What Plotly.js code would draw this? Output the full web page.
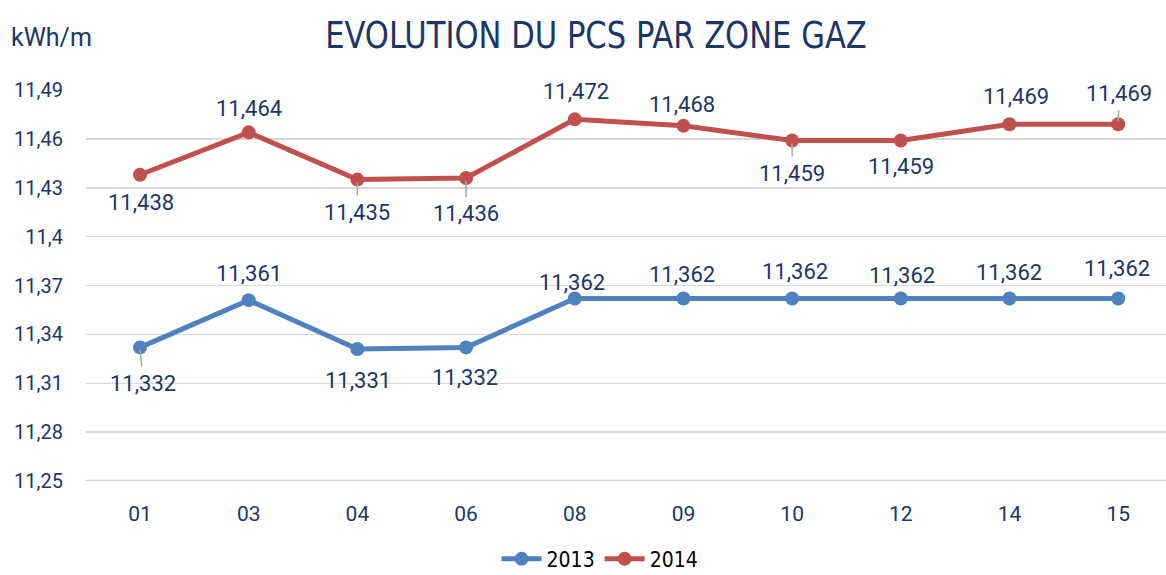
<!DOCTYPE html>
<html>
<head>
<meta charset="utf-8">
<script src="https://cdn.plot.ly/plotly-3.0.1.min.js"></script>
<style>
html,body{margin:0;padding:0;background:#fff;}
#chart{width:1166px;height:575px;}
#chart .gtitle{transform:scaleX(0.92);transform-box:fill-box;transform-origin:center;}
</style>
</head>
<body>
<div id="chart"></div>
<script>
// ---- data ----
const zones = ["01", "03", "04", "06", "08", "09", "10", "12", "14", "15"];
const values2013 = [11.332, 11.361, 11.331, 11.332, 11.362, 11.362, 11.362, 11.362, 11.362, 11.362];
const values2014 = [11.438, 11.464, 11.435, 11.436, 11.472, 11.468, 11.459, 11.459, 11.469, 11.469];
const yTickVals = [11.25, 11.28, 11.31, 11.34, 11.37, 11.40, 11.43, 11.46, 11.49];
const yTickText = ["11,25", "11,28", "11,31", "11,34", "11,37", "11,4", "11,43", "11,46", "11,49"];
const seriesNames = ["2013", "2014"];

// ---- label placement (pixel offsets, leader flag) ----
const off2013 = [[3,36,1],[0,-27,0],[1,31,0],[-1,30,0],[-3,-16,0],[-1,-24,0],[3,-27,0],[1,-23,0],[0,-26,0],[-1,-30,0]];
const off2014 = [[1,28,0],[0,-24,0],[0,33,1],[0,36,1],[1,-28,0],[-1,-21,0],[0,33,1],[0,26,0],[7,-28,0],[1,-31,1]];

const navy = "#1c3668";
const blue = "#4f81bd";
const red = "#c0504d";
const xIdx = zones.map((z, i) => i);

function fmt(v) { return v.toFixed(3).replace(".", ","); }

function labels(vals, offs) {
  return vals.map((v, i) => ({
    x: i, y: v, xref: "x", yref: "y",
    text: fmt(v),
    showarrow: true, arrowhead: 0, arrowwidth: 1.5, standoff: 3,
    arrowcolor: offs[i][2] ? "#a6a6a6" : "rgba(0,0,0,0)",
    ax: offs[i][0], ay: offs[i][1], borderpad: 4,
    font: {family: "Roboto, sans-serif", size: 22, color: navy}
  }));
}

const traces = [
  {x: xIdx, y: values2013, name: seriesNames[0], type: "scatter", mode: "lines+markers",
   line: {color: blue, width: 5}, marker: {color: blue, size: 14}},
  {x: xIdx, y: values2014, name: seriesNames[1], type: "scatter", mode: "lines+markers",
   line: {color: red, width: 5}, marker: {color: red, size: 14}}
];

const annotations = labels(values2013, off2013).concat(labels(values2014, off2014));
annotations.push({
  xref: "paper", yref: "paper", x: -0.0713, y: 1.1355, xanchor: "left", yanchor: "middle",
  text: "kWh/m", showarrow: false,
  font: {family: "Roboto, sans-serif", size: 25, color: navy}
});

const layout = {
  width: 1166, height: 575,
  margin: {l: 86, r: 0, t: 90, b: 94, autoexpand: false},
  paper_bgcolor: "#ffffff", plot_bgcolor: "#ffffff",
  separators: ", ",
  showlegend: true,
  title: {
    text: "EVOLUTION DU PCS PAR ZONE GAZ",
    xref: "container", yref: "container", x: 596/1166, xanchor: "center",
    y: 1 - 35/575, yanchor: "middle",
    font: {family: "'Liberation Sans Narrow', 'DejaVu Sans Condensed', sans-serif", size: 37, color: navy}
  },
  xaxis: {
    type: "linear", range: [-0.497, 9.44],
    tickvals: xIdx, ticktext: zones,
    showgrid: false, zeroline: false, showline: false,
    ticks: "", ticklabelstandoff: 18,
    tickfont: {family: "Roboto, sans-serif", size: 21, color: navy},
    fixedrange: true
  },
  yaxis: {
    range: [11.25, 11.49],
    tickvals: yTickVals, ticktext: yTickText,
    showgrid: true, gridcolor: "#d9d9d9", gridwidth: 1.5,
    zeroline: false, showline: false, ticks: "", ticklabelstandoff: 22,
    tickfont: {family: "Roboto, sans-serif", size: 20, color: navy},
    fixedrange: true
  },
  shapes: [{type: "line", xref: "paper", yref: "y", x0: 0, x1: 1, y0: 11.25, y1: 11.25,
            line: {color: "#d0d0d0", width: 2.5}, layer: "below"}],
  legend: {
    orientation: "h", x: 0.476, xanchor: "center", y: -0.2, yanchor: "middle",
    font: {family: "'Liberation Sans Narrow', 'DejaVu Sans Condensed', sans-serif", size: 21, color: "#000000"},
    itemwidth: 40, bgcolor: "rgba(0,0,0,0)"
  },
  annotations: annotations
};

Plotly.newPlot("chart", traces, layout, {displayModeBar: false, staticPlot: true});
</script>
</body>
</html>
